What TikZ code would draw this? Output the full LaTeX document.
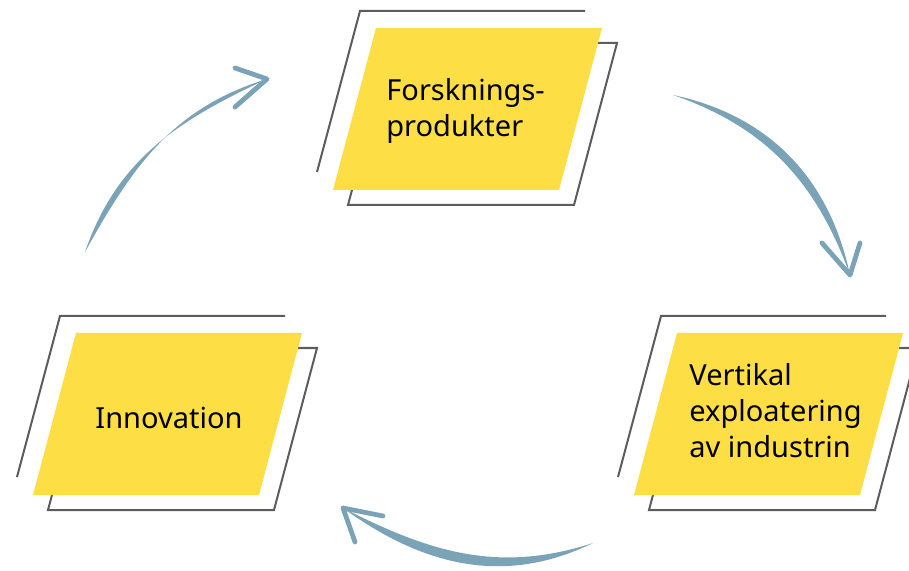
\documentclass[tikz,border=0pt]{standalone}
\usepackage{fontspec}
\setmainfont{Noto Sans}
\usepackage{tikz}
\usetikzlibrary{positioning,calc}
\definecolor{noteyellow}{HTML}{FDDF45}
\definecolor{framegray}{HTML}{5C5C5C}
\definecolor{flowblue}{HTML}{7BA3B8}

% yellow sheet with its two frames, #1 = name, #2 = top left corner
\newcommand{\parblock}[2]{%
  \coordinate (#1) at (#2);
  \draw[frame] ($(#1)+(15,15)$) -- ++(226,0) -- ++(-43,162) -- ++(-226,0) -- cycle;
  \fill[note] (#1) -- ++(226,0) -- ++(-43,162) -- ++(-226,0) -- cycle;
  \draw[frame] ($(#1)+(209,-17)$) -- ++(-225,0) -- ++(-43,161);
}

\begin{document}
\begin{tikzpicture}[
x=0.5pt, y=-0.5pt,
frame/.style={draw=framegray, line width=1pt},
note/.style={fill=noteyellow},
blocktext/.style={inner sep=0pt, align=left, font=\fontsize{14.5}{18}\selectfont},
flow/.style={fill=flowblue},
flowhead/.style={draw=flowblue, line width=2.4pt, line cap=round, line join=round}
]
\useasboundingbox (0,0) rectangle (909,571);

\parblock{forsk}{376,28}
\parblock{vert}{677,333}
\parblock{innov}{76,333}

% base anchor sits on the last line
\node[blocktext, anchor=base west] (forsk_text) at (386,137) {Forsknings-\\produkter};
\node[blocktext, anchor=base west] (vert_text) at (689,457) {Vertikal\\exploatering\\av industrin};
\node[blocktext, anchor=base] (innov_text) at (169,428) {Innovation};

%Arrow ends
\coordinate (innov_out) at (85,252);
\coordinate (forsk_in) at (267,79);
\coordinate (forsk_out) at (673,95);
\coordinate (vert_in) at (850,275);
\coordinate (vert_out) at (593,543);
\coordinate (innov_in) at (343,508);

%Arrows
\fill[flow] (innov_out) to[out=61,in=197] (forsk_in) to[out=205,in=71] (innov_out);
\draw[flowhead] ($(forsk_in)+(-32,-11)$) -- (forsk_in) -- ($(forsk_in)+(-32,28)$);

\fill[flow] (forsk_out) to[out=-12,in=102] (vert_in) to[out=110,in=-19] (forsk_out);
\draw[flowhead] ($(vert_in)+(-28,-32)$) -- (vert_in) -- ($(vert_in)+(10,-32)$);

\fill[flow] (vert_out) to[out=198,in=-27] (innov_in) to[out=-36,in=206] (vert_out);
\draw[flowhead] ($(innov_in)+(40,8)$) -- (innov_in) -- ($(innov_in)+(12,34)$);
\end{tikzpicture}
\end{document}
